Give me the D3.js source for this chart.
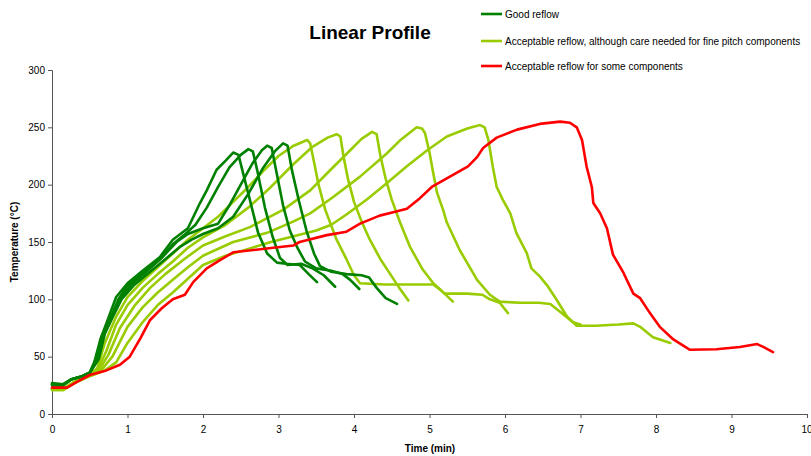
<!DOCTYPE html>
<html>
<head>
<meta charset="utf-8">
<script src="https://cdn.jsdelivr.net/npm/d3@7"></script>
<style>
  body { margin: 0; background: #fff; }
  svg { font-family: "Liberation Sans", Arial, sans-serif; }
</style>
</head>
<body>
<div id="chart-area"></div>
<script>
// Data: [time (min), temperature (°C)]
var xTicks = [0, 1, 2, 3, 4, 5, 6, 7, 8, 9, 10];
var yTicks = [0, 50, 100, 150, 200, 250, 300];

var legendLabels = [
    "Good reflow",
    "Acceptable reflow, although care needed for fine pitch components",
    "Acceptable reflow for some components"
];

var good1 = [[0,27],[0.15,26],[0.25,30],[0.4,33],[0.5,36],[0.56,45],[0.64,65],[0.72,79],[0.85,102],[1.0,114],[1.2,125],[1.43,137],[1.6,152],[1.7,157],[1.8,162],[1.96,184],[2.05,195],[2.18,213],[2.3,221],[2.4,228],[2.47,226],[2.55,205],[2.62,187],[2.73,158],[2.85,140],[2.98,132],[3.1,131],[3.28,130],[3.4,122],[3.51,115]];
var good2 = [[0,26],[0.15,25],[0.25,30],[0.4,33],[0.5,36],[0.58,48],[0.66,68],[0.75,80],[0.88,100],[1.0,112],[1.2,123],[1.43,135],[1.6,148],[1.75,156],[1.9,165],[2.05,180],[2.2,198],[2.35,215],[2.5,226],[2.6,231],[2.66,229],[2.72,212],[2.82,180],[2.92,155],[3.02,136],[3.12,130],[3.3,131],[3.45,127],[3.6,121],[3.75,111]];
var good3 = [[0,25],[0.15,25],[0.25,30],[0.4,33],[0.5,36],[0.6,47],[0.68,68],[0.78,82],[0.9,100],[1.05,113],[1.25,124],[1.45,136],[1.65,150],[1.8,157],[2.0,162],[2.2,166],[2.35,182],[2.5,200],[2.65,218],[2.78,230],[2.85,234],[2.91,232],[2.97,212],[3.06,182],[3.15,160],[3.25,145],[3.35,133],[3.5,127],[3.7,125],[3.85,122],[3.95,117],[4.07,109]];
var good4 = [[0,26],[0.15,26],[0.25,30],[0.4,33],[0.5,36],[0.62,48],[0.7,70],[0.8,84],[0.92,100],[1.08,112],[1.3,124],[1.5,135],[1.7,146],[1.85,152],[2.0,157],[2.2,162],[2.4,172],[2.6,192],[2.8,215],[2.95,229],[3.06,236],[3.12,234],[3.18,212],[3.27,186],[3.37,160],[3.47,140],[3.55,129],[3.7,124],[3.9,122],[4.1,121],[4.2,119],[4.3,110],[4.42,101],[4.57,96]];

var fine1 = [[0,22],[0.15,22],[0.3,28],[0.5,34],[0.6,40],[0.7,62],[0.85,85],[1.0,102],[1.2,116],[1.4,128],[1.6,140],[1.8,152],[2.0,162],[2.2,172],[2.4,185],[2.6,198],[2.8,212],[3.0,225],[3.2,234],[3.38,239],[3.42,236],[3.47,220],[3.53,200],[3.62,178],[3.77,152],[3.9,135],[4.0,121],[4.08,114],[4.4,113],[4.8,113],[5.05,113],[5.15,108],[5.2,105],[5.5,105],[5.7,104],[5.8,100],[5.93,97],[6.04,88]];
var fine2 = [[0,22],[0.15,22],[0.3,28],[0.5,34],[0.6,38],[0.72,55],[0.85,78],[1.0,95],[1.2,110],[1.4,122],[1.6,133],[1.8,145],[2.0,154],[2.3,165],[2.6,180],[2.9,198],[3.2,218],[3.45,233],[3.65,241],[3.77,244],[3.82,242],[3.86,225],[3.92,205],[4.0,185],[4.1,168],[4.21,152],[4.35,135],[4.5,120],[4.6,110],[4.72,99]];
var fine3 = [[0,21],[0.15,21],[0.3,28],[0.5,34],[0.62,38],[0.75,52],[0.9,75],[1.1,95],[1.3,110],[1.5,122],[1.75,135],[2.0,147],[2.3,155],[2.62,163],[3.06,178],[3.42,195],[3.72,215],[3.95,230],[4.1,240],[4.24,246],[4.3,244],[4.35,225],[4.42,205],[4.5,187],[4.61,167],[4.74,146],[4.91,126],[5.05,114],[5.15,108],[5.31,98]];
var fine4 = [[0,22],[0.15,22],[0.3,28],[0.5,34],[0.65,38],[0.8,50],[1.0,76],[1.2,93],[1.4,106],[1.6,117],[1.8,128],[2.0,138],[2.4,150],[2.85,158],[3.2,168],[3.42,175],[3.72,189],[4.08,207],[4.43,227],[4.6,238],[4.75,246],[4.83,250],[4.9,249],[4.94,245],[5.0,228],[5.05,210],[5.1,193],[5.18,178],[5.23,167],[5.4,143],[5.63,117],[5.8,104],[5.93,98],[6.2,97],[6.45,97],[6.6,96],[6.75,88],[6.9,80],[7.0,78]];
var fine5 = [[0,21],[0.15,21],[0.3,27],[0.5,33],[0.7,38],[0.85,45],[1.0,62],[1.2,80],[1.4,95],[1.6,106],[1.8,118],[2.0,130],[2.3,138],[2.6,144],[2.9,150],[3.2,155],[3.5,160],[3.7,165],[3.9,174],[4.17,187],[4.43,201],[4.7,216],[4.97,230],[5.23,242],[5.5,249],[5.67,252],[5.73,250],[5.78,239],[5.84,215],[5.89,198],[5.97,187],[6.07,175],[6.15,158],[6.29,140],[6.35,127],[6.46,120],[6.56,112],[6.69,99],[6.82,85],[6.95,77],[7.2,77],[7.5,78],[7.7,79],[7.79,76],[7.96,67],[8.19,62]];

var some1 = [[0,23],[0.2,23],[0.33,28],[0.5,34],[0.72,38],[0.9,43],[1.03,50],[1.17,66],[1.3,82],[1.45,92],[1.6,100],[1.76,104],[1.87,115],[2.05,127],[2.22,134],[2.4,141],[2.67,143],[2.93,145],[3.2,147],[3.28,150],[3.64,156],[3.9,159],[4.08,166],[4.34,173],[4.52,176],[4.7,179],[4.87,188],[5.03,198],[5.27,207],[5.51,216],[5.63,224],[5.71,232],[5.89,241],[6.16,248],[6.46,253],[6.73,255],[6.86,254],[6.95,250],[7.02,239],[7.08,216],[7.15,198],[7.17,184],[7.26,175],[7.35,162],[7.43,139],[7.57,123],[7.7,105],[7.79,101],[7.92,88],[8.05,76],[8.23,65],[8.45,56],[8.8,56.5],[9.11,58.5],[9.34,61],[9.42,58.5],[9.55,54]];

var colors = ["#008000", "#99cc00", "#ff0000"];

// drawing order: light greens first, then greens, red on top
var series = [
    { data: fine1, c: 1 }, { data: fine2, c: 1 }, { data: fine3, c: 1 },
    { data: fine4, c: 1 }, { data: fine5, c: 1 },
    { data: good1, c: 0 }, { data: good2, c: 0 }, { data: good3, c: 0 }, { data: good4, c: 0 },
    { data: some1, c: 2 }
];

var margin = { left: 52, right: 4, top: 70, bottom: 42 },
    width = 811 - margin.left - margin.right,
    height = 456 - margin.top - margin.bottom;

var svg = d3.select("#chart-area")
    .append("svg")
    .attr("width", 811)
    .attr("height", 456);
var g = svg.append("g")
    .attr("transform", "translate(" + margin.left + "," + margin.top + ")");

// Scales
var x = d3.scaleLinear().domain([0, 10]).range([0, 755]);
var y = d3.scaleLinear().domain([0, 300]).range([height, 0]);

// Axes
var xAxis = g.append("g")
    .attr("transform", "translate(0," + height + ")")
    .call(d3.axisBottom(x).tickValues(xTicks).tickSize(4).tickPadding(8));
var yAxis = g.append("g")
    .call(d3.axisLeft(y).tickValues(yTicks).tickSize(4).tickPadding(3));

[xAxis, yAxis].forEach(function(a) {
    a.select(".domain").attr("stroke", "#555");
    a.selectAll(".tick line").attr("stroke", "#555");
    a.selectAll("text").attr("font-size", "10px").attr("fill", "#000")
        .attr("font-family", "Liberation Sans, Arial, sans-serif");
});
// the last label sits on the right edge; keep it inside the picture
xAxis.selectAll(".tick text").filter(function(d) { return d === 10; })
    .attr("text-anchor", "end").attr("dx", "5px");

// Lines
var line = d3.line()
    .x(function(d) { return x(d[0]); })
    .y(function(d) { return y(d[1]); });

g.selectAll(".series")
    .data(series)
    .enter().append("path")
    .attr("class", "series")
    .attr("fill", "none")
    .attr("stroke", function(d) { return colors[d.c]; })
    .attr("stroke-width", 2.6)
    .attr("stroke-linejoin", "round")
    .attr("stroke-linecap", "round")
    .attr("d", function(d) { return line(d.data); });

// Title and labels
svg.append("text")
    .attr("x", 370)
    .attr("y", 39)
    .attr("text-anchor", "middle")
    .attr("font-size", "19px")
    .attr("font-weight", "bold")
    .text("Linear Profile");

svg.append("text")
    .attr("x", 430)
    .attr("y", 452)
    .attr("text-anchor", "middle")
    .attr("font-size", "10px")
    .attr("font-weight", "bold")
    .text("Time (min)");

svg.append("text")
    .attr("transform", "translate(18,242) rotate(-90)")
    .attr("text-anchor", "middle")
    .attr("font-size", "10px")
    .attr("font-weight", "bold")
    .text("Temperature (°C)");

// Legend
var legend = svg.selectAll(".legend")
    .data(legendLabels)
    .enter().append("g")
    .attr("class", "legend")
    .attr("transform", function(d, i) { return "translate(481," + [14, 41, 66][i] + ")"; });
legend.append("line")
    .attr("x1", 0).attr("x2", 21)
    .attr("stroke", function(d, i) { return colors[i]; })
    .attr("stroke-width", 2.6);
legend.append("text")
    .attr("x", 24)
    .attr("dy", "0.35em")
    .attr("font-size", "10px")
    .text(function(d) { return d; });
</script>
</body>
</html>
